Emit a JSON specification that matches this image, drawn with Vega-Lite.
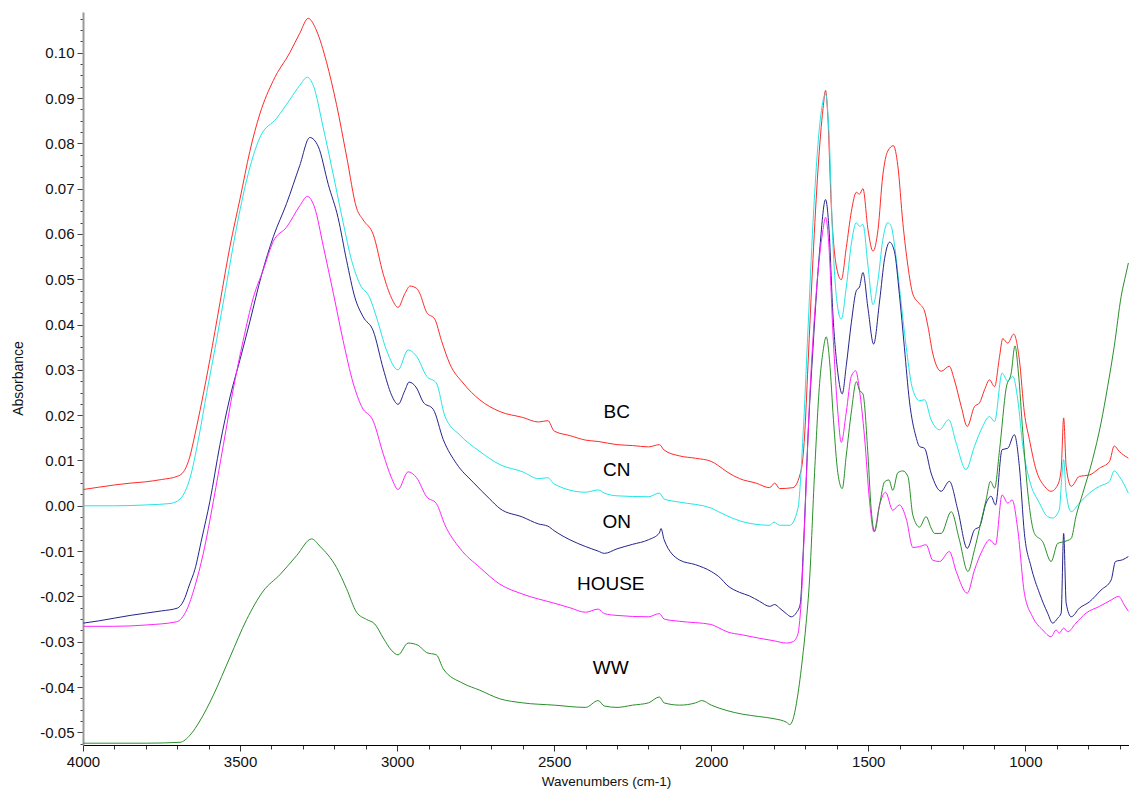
{
"$schema": "https://vega.github.io/schema/vega-lite/v6.json",
"width": 1046, "height": 733,
"autosize": {"type": "none"},
"padding": {"left": 83, "top": 12, "right": 0, "bottom": 47},
"background": "white",
"config": {"view": {"stroke": null}, "font": "Liberation Sans"},
"datasets": {
"spectra": [
{"s":"BC","w":3999,"a":0.0036},{"s":"BC","w":3950,"a":0.0041},{"s":"BC","w":3900,"a":0.0046},{"s":"BC","w":3850,"a":0.005},{"s":"BC","w":3800,"a":0.0053},{"s":"BC","w":3750,"a":0.0058},{"s":"BC","w":3700,"a":0.0065},{"s":"BC","w":3680,"a":0.0075},{"s":"BC","w":3660,"a":0.0108},{"s":"BC","w":3644,"a":0.0156},{"s":"BC","w":3622,"a":0.0229},{"s":"BC","w":3596,"a":0.0323},{"s":"BC","w":3564,"a":0.0448},{"s":"BC","w":3532,"a":0.0573},{"s":"BC","w":3500,"a":0.0678},{"s":"BC","w":3469,"a":0.0782},{"s":"BC","w":3437,"a":0.0865},{"s":"BC","w":3394,"a":0.0939},{"s":"BC","w":3341,"a":0.1001},{"s":"BC","w":3310,"a":0.1043},{"s":"BC","w":3283,"a":0.1076},{"s":"BC","w":3256,"a":0.1048},{"s":"BC","w":3225,"a":0.098},{"s":"BC","w":3193,"a":0.0886},{"s":"BC","w":3161,"a":0.0772},{"s":"BC","w":3129,"a":0.0657},{"s":"BC","w":3108,"a":0.0631},{"s":"BC","w":3076,"a":0.0599},{"s":"BC","w":3044,"a":0.0511},{"s":"BC","w":3018,"a":0.0459},{"s":"BC","w":2997,"a":0.0438},{"s":"BC","w":2975,"a":0.0469},{"s":"BC","w":2959,"a":0.0485},{"s":"BC","w":2938,"a":0.048},{"s":"BC","w":2928,"a":0.0469},{"s":"BC","w":2906,"a":0.0427},{"s":"BC","w":2880,"a":0.0412},{"s":"BC","w":2859,"a":0.0365},{"s":"BC","w":2832,"a":0.0313},{"s":"BC","w":2790,"a":0.0271},{"s":"BC","w":2737,"a":0.0234},{"s":"BC","w":2673,"a":0.0208},{"s":"BC","w":2600,"a":0.0195},{"s":"BC","w":2550,"a":0.0185},{"s":"BC","w":2520,"a":0.0188},{"s":"BC","w":2500,"a":0.0165},{"s":"BC","w":2450,"a":0.0155},{"s":"BC","w":2400,"a":0.0145},{"s":"BC","w":2360,"a":0.0142},{"s":"BC","w":2300,"a":0.0135},{"s":"BC","w":2250,"a":0.0133},{"s":"BC","w":2200,"a":0.013},{"s":"BC","w":2165,"a":0.0135},{"s":"BC","w":2150,"a":0.0123},{"s":"BC","w":2100,"a":0.011},{"s":"BC","w":2050,"a":0.0105},{"s":"BC","w":2000,"a":0.0098},{"s":"BC","w":1980,"a":0.009},{"s":"BC","w":1950,"a":0.0075},{"s":"BC","w":1910,"a":0.006},{"s":"BC","w":1857,"a":0.005},{"s":"BC","w":1814,"a":0.004},{"s":"BC","w":1798,"a":0.005},{"s":"BC","w":1782,"a":0.0038},{"s":"BC","w":1740,"a":0.004},{"s":"BC","w":1713,"a":0.0081},{"s":"BC","w":1703,"a":0.0152},{"s":"BC","w":1692,"a":0.031},{"s":"BC","w":1676,"a":0.0546},{"s":"BC","w":1660,"a":0.0743},{"s":"BC","w":1644,"a":0.0877},{"s":"BC","w":1636,"a":0.0917},{"s":"BC","w":1629,"a":0.0862},{"s":"BC","w":1618,"a":0.0665},{"s":"BC","w":1602,"a":0.053},{"s":"BC","w":1586,"a":0.0499},{"s":"BC","w":1570,"a":0.057},{"s":"BC","w":1554,"a":0.0649},{"s":"BC","w":1538,"a":0.0692},{"s":"BC","w":1528,"a":0.0688},{"s":"BC","w":1517,"a":0.07},{"s":"BC","w":1501,"a":0.061},{"s":"BC","w":1485,"a":0.0562},{"s":"BC","w":1469,"a":0.061},{"s":"BC","w":1454,"a":0.0728},{"s":"BC","w":1438,"a":0.0783},{"s":"BC","w":1420,"a":0.0795},{"s":"BC","w":1406,"a":0.0751},{"s":"BC","w":1390,"a":0.0625},{"s":"BC","w":1374,"a":0.053},{"s":"BC","w":1358,"a":0.0467},{"s":"BC","w":1337,"a":0.0446},{"s":"BC","w":1321,"a":0.043},{"s":"BC","w":1310,"a":0.0396},{"s":"BC","w":1295,"a":0.0337},{"s":"BC","w":1268,"a":0.0297},{"s":"BC","w":1242,"a":0.0308},{"s":"BC","w":1226,"a":0.0278},{"s":"BC","w":1204,"a":0.0219},{"s":"BC","w":1185,"a":0.0175},{"s":"BC","w":1162,"a":0.0219},{"s":"BC","w":1146,"a":0.0227},{"s":"BC","w":1130,"a":0.0256},{"s":"BC","w":1114,"a":0.0278},{"s":"BC","w":1098,"a":0.0263},{"s":"BC","w":1082,"a":0.033},{"s":"BC","w":1072,"a":0.0369},{"s":"BC","w":1056,"a":0.0359},{"s":"BC","w":1037,"a":0.0379},{"s":"BC","w":1019,"a":0.0322},{"s":"BC","w":1003,"a":0.0205},{"s":"BC","w":987,"a":0.0146},{"s":"BC","w":966,"a":0.008},{"s":"BC","w":939,"a":0.0043},{"s":"BC","w":918,"a":0.0032},{"s":"BC","w":897,"a":0.0046},{"s":"BC","w":886,"a":0.008},{"s":"BC","w":878,"a":0.0194},{"s":"BC","w":870,"a":0.0087},{"s":"BC","w":854,"a":0.0043},{"s":"BC","w":828,"a":0.0065},{"s":"BC","w":796,"a":0.0068},{"s":"BC","w":764,"a":0.0083},{"s":"BC","w":732,"a":0.0098},{"s":"BC","w":717,"a":0.0132},{"s":"BC","w":701,"a":0.012},{"s":"BC","w":672,"a":0.0105},

{"s":"CN","w":3999,"a":0.0},{"s":"CN","w":3903,"a":0.0},{"s":"CN","w":3797,"a":0.0002},{"s":"CN","w":3723,"a":0.0005},{"s":"CN","w":3691,"a":0.0015},{"s":"CN","w":3659,"a":0.0062},{"s":"CN","w":3633,"a":0.0145},{"s":"CN","w":3606,"a":0.025},{"s":"CN","w":3575,"a":0.0365},{"s":"CN","w":3543,"a":0.049},{"s":"CN","w":3511,"a":0.0615},{"s":"CN","w":3479,"a":0.0719},{"s":"CN","w":3437,"a":0.0813},{"s":"CN","w":3384,"a":0.0855},{"s":"CN","w":3341,"a":0.0897},{"s":"CN","w":3310,"a":0.0928},{"s":"CN","w":3286,"a":0.0946},{"s":"CN","w":3267,"a":0.0928},{"s":"CN","w":3235,"a":0.0834},{"s":"CN","w":3203,"a":0.073},{"s":"CN","w":3172,"a":0.0626},{"s":"CN","w":3145,"a":0.0542},{"s":"CN","w":3119,"a":0.049},{"s":"CN","w":3087,"a":0.0459},{"s":"CN","w":3066,"a":0.0417},{"s":"CN","w":3034,"a":0.0344},{"s":"CN","w":2997,"a":0.03},{"s":"CN","w":2965,"a":0.0344},{"s":"CN","w":2938,"a":0.033},{"s":"CN","w":2906,"a":0.0286},{"s":"CN","w":2875,"a":0.0271},{"s":"CN","w":2848,"a":0.0198},{"s":"CN","w":2800,"a":0.0156},{"s":"CN","w":2737,"a":0.012},{"s":"CN","w":2673,"a":0.0091},{"s":"CN","w":2600,"a":0.0075},{"s":"CN","w":2550,"a":0.006},{"s":"CN","w":2520,"a":0.0062},{"s":"CN","w":2500,"a":0.0048},{"s":"CN","w":2400,"a":0.003},{"s":"CN","w":2360,"a":0.0035},{"s":"CN","w":2340,"a":0.0028},{"s":"CN","w":2300,"a":0.0022},{"s":"CN","w":2200,"a":0.002},{"s":"CN","w":2165,"a":0.0028},{"s":"CN","w":2150,"a":0.0015},{"s":"CN","w":2100,"a":0.0008},{"s":"CN","w":2000,"a":-0.0005},{"s":"CN","w":1980,"a":-0.0012},{"s":"CN","w":1950,"a":-0.0022},{"s":"CN","w":1910,"a":-0.0033},{"s":"CN","w":1857,"a":-0.0041},{"s":"CN","w":1814,"a":-0.0043},{"s":"CN","w":1800,"a":-0.0036},{"s":"CN","w":1782,"a":-0.0043},{"s":"CN","w":1750,"a":-0.0043},{"s":"CN","w":1724,"a":-0.0006},{"s":"CN","w":1708,"a":0.0152},{"s":"CN","w":1692,"a":0.0389},{"s":"CN","w":1676,"a":0.0625},{"s":"CN","w":1655,"a":0.0838},{"s":"CN","w":1636,"a":0.0909},{"s":"CN","w":1625,"a":0.0822},{"s":"CN","w":1613,"a":0.0586},{"s":"CN","w":1597,"a":0.0436},{"s":"CN","w":1586,"a":0.0412},{"s":"CN","w":1570,"a":0.0483},{"s":"CN","w":1554,"a":0.0578},{"s":"CN","w":1538,"a":0.0625},{"s":"CN","w":1528,"a":0.0617},{"s":"CN","w":1517,"a":0.0621},{"s":"CN","w":1501,"a":0.053},{"s":"CN","w":1485,"a":0.0444},{"s":"CN","w":1469,"a":0.0499},{"s":"CN","w":1454,"a":0.0586},{"s":"CN","w":1438,"a":0.0625},{"s":"CN","w":1427,"a":0.0617},{"s":"CN","w":1417,"a":0.0578},{"s":"CN","w":1401,"a":0.0483},{"s":"CN","w":1379,"a":0.0349},{"s":"CN","w":1363,"a":0.027},{"s":"CN","w":1348,"a":0.0239},{"s":"CN","w":1337,"a":0.0232},{"s":"CN","w":1321,"a":0.0234},{"s":"CN","w":1300,"a":0.019},{"s":"CN","w":1273,"a":0.0168},{"s":"CN","w":1244,"a":0.019},{"s":"CN","w":1220,"a":0.0138},{"s":"CN","w":1189,"a":0.008},{"s":"CN","w":1162,"a":0.0131},{"s":"CN","w":1136,"a":0.0175},{"s":"CN","w":1114,"a":0.0197},{"s":"CN","w":1098,"a":0.0186},{"s":"CN","w":1074,"a":0.0293},{"s":"CN","w":1056,"a":0.0275},{"s":"CN","w":1040,"a":0.0286},{"s":"CN","w":1024,"a":0.0234},{"s":"CN","w":1008,"a":0.0131},{"s":"CN","w":987,"a":0.0057},{"s":"CN","w":955,"a":0.0006},{"s":"CN","w":929,"a":-0.0024},{"s":"CN","w":913,"a":-0.0027},{"s":"CN","w":892,"a":-0.0009},{"s":"CN","w":883,"a":0.0072},{"s":"CN","w":878,"a":0.0102},{"s":"CN","w":870,"a":0.0028},{"s":"CN","w":854,"a":-0.0013},{"s":"CN","w":828,"a":0.0006},{"s":"CN","w":796,"a":0.0028},{"s":"CN","w":764,"a":0.0043},{"s":"CN","w":732,"a":0.0054},{"s":"CN","w":717,"a":0.0077},{"s":"CN","w":701,"a":0.0065},{"s":"CN","w":672,"a":0.0028},

{"s":"ON","w":3999,"a":-0.0259},{"s":"ON","w":3950,"a":-0.0254},{"s":"ON","w":3900,"a":-0.0248},{"s":"ON","w":3850,"a":-0.0242},{"s":"ON","w":3800,"a":-0.0237},{"s":"ON","w":3750,"a":-0.0232},{"s":"ON","w":3700,"a":-0.0226},{"s":"ON","w":3680,"a":-0.021},{"s":"ON","w":3660,"a":-0.0172},{"s":"ON","w":3644,"a":-0.0141},{"s":"ON","w":3622,"a":-0.0073},{"s":"ON","w":3596,"a":0.001},{"s":"ON","w":3564,"a":0.0135},{"s":"ON","w":3532,"a":0.024},{"s":"ON","w":3500,"a":0.0323},{"s":"ON","w":3469,"a":0.0406},{"s":"ON","w":3431,"a":0.0511},{"s":"ON","w":3394,"a":0.0594},{"s":"ON","w":3352,"a":0.0667},{"s":"ON","w":3310,"a":0.0751},{"s":"ON","w":3278,"a":0.0813},{"s":"ON","w":3251,"a":0.0793},{"s":"ON","w":3219,"a":0.0709},{"s":"ON","w":3188,"a":0.0636},{"s":"ON","w":3161,"a":0.0542},{"s":"ON","w":3134,"a":0.0459},{"s":"ON","w":3108,"a":0.0417},{"s":"ON","w":3076,"a":0.0386},{"s":"ON","w":3044,"a":0.0302},{"s":"ON","w":3018,"a":0.0245},{"s":"ON","w":2997,"a":0.0224},{"s":"ON","w":2975,"a":0.0255},{"s":"ON","w":2962,"a":0.0273},{"s":"ON","w":2938,"a":0.026},{"s":"ON","w":2917,"a":0.0229},{"s":"ON","w":2885,"a":0.0213},{"s":"ON","w":2853,"a":0.0146},{"s":"ON","w":2811,"a":0.0093},{"s":"ON","w":2758,"a":0.0052},{"s":"ON","w":2705,"a":0.0015},{"s":"ON","w":2673,"a":-0.0006},{"s":"ON","w":2600,"a":-0.0025},{"s":"ON","w":2550,"a":-0.004},{"s":"ON","w":2520,"a":-0.0045},{"s":"ON","w":2500,"a":-0.0055},{"s":"ON","w":2450,"a":-0.0075},{"s":"ON","w":2400,"a":-0.009},{"s":"ON","w":2360,"a":-0.01},{"s":"ON","w":2340,"a":-0.0105},{"s":"ON","w":2300,"a":-0.0095},{"s":"ON","w":2250,"a":-0.0085},{"s":"ON","w":2200,"a":-0.0075},{"s":"ON","w":2165,"a":-0.006},{"s":"ON","w":2160,"a":-0.005},{"s":"ON","w":2150,"a":-0.0075},{"s":"ON","w":2100,"a":-0.012},{"s":"ON","w":2050,"a":-0.013},{"s":"ON","w":2000,"a":-0.0145},{"s":"ON","w":1970,"a":-0.016},{"s":"ON","w":1950,"a":-0.0175},{"s":"ON","w":1910,"a":-0.0191},{"s":"ON","w":1878,"a":-0.0199},{"s":"ON","w":1846,"a":-0.0211},{"s":"ON","w":1814,"a":-0.0222},{"s":"ON","w":1798,"a":-0.0218},{"s":"ON","w":1782,"a":-0.0226},{"s":"ON","w":1761,"a":-0.0238},{"s":"ON","w":1745,"a":-0.0245},{"s":"ON","w":1729,"a":-0.0236},{"s":"ON","w":1717,"a":-0.0218},{"s":"ON","w":1706,"a":-0.0084},{"s":"ON","w":1692,"a":0.0152},{"s":"ON","w":1676,"a":0.0349},{"s":"ON","w":1655,"a":0.0562},{"s":"ON","w":1636,"a":0.0676},{"s":"ON","w":1625,"a":0.061},{"s":"ON","w":1613,"a":0.0428},{"s":"ON","w":1597,"a":0.0294},{"s":"ON","w":1583,"a":0.0247},{"s":"ON","w":1570,"a":0.031},{"s":"ON","w":1554,"a":0.0404},{"s":"ON","w":1538,"a":0.0475},{"s":"ON","w":1528,"a":0.0483},{"s":"ON","w":1517,"a":0.0515},{"s":"ON","w":1501,"a":0.0436},{"s":"ON","w":1483,"a":0.0357},{"s":"ON","w":1464,"a":0.0452},{"s":"ON","w":1448,"a":0.0546},{"s":"ON","w":1432,"a":0.0582},{"s":"ON","w":1417,"a":0.0562},{"s":"ON","w":1401,"a":0.0467},{"s":"ON","w":1385,"a":0.0349},{"s":"ON","w":1369,"a":0.0231},{"s":"ON","w":1348,"a":0.0152},{"s":"ON","w":1337,"a":0.0131},{"s":"ON","w":1321,"a":0.0127},{"s":"ON","w":1300,"a":0.0072},{"s":"ON","w":1268,"a":0.0032},{"s":"ON","w":1242,"a":0.0054},{"s":"ON","w":1215,"a":-0.0009},{"s":"ON","w":1185,"a":-0.0094},{"s":"ON","w":1162,"a":-0.0053},{"s":"ON","w":1146,"a":-0.0046},{"s":"ON","w":1125,"a":0.0006},{"s":"ON","w":1109,"a":0.0021},{"s":"ON","w":1095,"a":0.0002},{"s":"ON","w":1074,"a":0.0124},{"s":"ON","w":1056,"a":0.0127},{"s":"ON","w":1035,"a":0.0157},{"s":"ON","w":1019,"a":0.0087},{"s":"ON","w":1003,"a":-0.0061},{"s":"ON","w":982,"a":-0.0134},{"s":"ON","w":955,"a":-0.0193},{"s":"ON","w":929,"a":-0.0237},{"s":"ON","w":913,"a":-0.0259},{"s":"ON","w":897,"a":-0.0248},{"s":"ON","w":886,"a":-0.0237},{"s":"ON","w":878,"a":-0.0061},{"s":"ON","w":870,"a":-0.0215},{"s":"ON","w":854,"a":-0.0245},{"s":"ON","w":828,"a":-0.0226},{"s":"ON","w":796,"a":-0.0212},{"s":"ON","w":759,"a":-0.0186},{"s":"ON","w":727,"a":-0.0164},{"s":"ON","w":713,"a":-0.0123},{"s":"ON","w":690,"a":-0.0119},{"s":"ON","w":672,"a":-0.0112},

{"s":"HOUSE","w":3999,"a":-0.0266},{"s":"HOUSE","w":3903,"a":-0.0266},{"s":"HOUSE","w":3797,"a":-0.0263},{"s":"HOUSE","w":3702,"a":-0.0256},{"s":"HOUSE","w":3670,"a":-0.023},{"s":"HOUSE","w":3644,"a":-0.0178},{"s":"HOUSE","w":3617,"a":-0.0105},{"s":"HOUSE","w":3585,"a":0.001},{"s":"HOUSE","w":3553,"a":0.0135},{"s":"HOUSE","w":3521,"a":0.026},{"s":"HOUSE","w":3490,"a":0.0365},{"s":"HOUSE","w":3458,"a":0.0459},{"s":"HOUSE","w":3426,"a":0.0521},{"s":"HOUSE","w":3394,"a":0.0584},{"s":"HOUSE","w":3352,"a":0.0615},{"s":"HOUSE","w":3310,"a":0.0662},{"s":"HOUSE","w":3286,"a":0.0683},{"s":"HOUSE","w":3262,"a":0.0657},{"s":"HOUSE","w":3235,"a":0.0573},{"s":"HOUSE","w":3203,"a":0.0469},{"s":"HOUSE","w":3172,"a":0.0365},{"s":"HOUSE","w":3140,"a":0.0271},{"s":"HOUSE","w":3113,"a":0.0219},{"s":"HOUSE","w":3076,"a":0.0187},{"s":"HOUSE","w":3044,"a":0.0114},{"s":"HOUSE","w":3018,"a":0.0062},{"s":"HOUSE","w":2997,"a":0.0036},{"s":"HOUSE","w":2965,"a":0.0075},{"s":"HOUSE","w":2938,"a":0.0062},{"s":"HOUSE","w":2906,"a":0.002},{"s":"HOUSE","w":2875,"a":0.0005},{"s":"HOUSE","w":2848,"a":-0.0042},{"s":"HOUSE","w":2800,"a":-0.0094},{"s":"HOUSE","w":2737,"a":-0.0136},{"s":"HOUSE","w":2673,"a":-0.0173},{"s":"HOUSE","w":2600,"a":-0.0195},{"s":"HOUSE","w":2500,"a":-0.0215},{"s":"HOUSE","w":2450,"a":-0.0225},{"s":"HOUSE","w":2400,"a":-0.0235},{"s":"HOUSE","w":2360,"a":-0.0228},{"s":"HOUSE","w":2340,"a":-0.0238},{"s":"HOUSE","w":2300,"a":-0.0242},{"s":"HOUSE","w":2200,"a":-0.0245},{"s":"HOUSE","w":2165,"a":-0.0238},{"s":"HOUSE","w":2150,"a":-0.025},{"s":"HOUSE","w":2100,"a":-0.0255},{"s":"HOUSE","w":2000,"a":-0.0262},{"s":"HOUSE","w":1980,"a":-0.0268},{"s":"HOUSE","w":1950,"a":-0.0278},{"s":"HOUSE","w":1900,"a":-0.0285},{"s":"HOUSE","w":1850,"a":-0.0292},{"s":"HOUSE","w":1800,"a":-0.0298},{"s":"HOUSE","w":1760,"a":-0.0303},{"s":"HOUSE","w":1740,"a":-0.03},{"s":"HOUSE","w":1725,"a":-0.0285},{"s":"HOUSE","w":1713,"a":-0.0203},{"s":"HOUSE","w":1703,"a":-0.0045},{"s":"HOUSE","w":1687,"a":0.0231},{"s":"HOUSE","w":1666,"a":0.0467},{"s":"HOUSE","w":1644,"a":0.061},{"s":"HOUSE","w":1636,"a":0.0637},{"s":"HOUSE","w":1625,"a":0.057},{"s":"HOUSE","w":1613,"a":0.0389},{"s":"HOUSE","w":1597,"a":0.0207},{"s":"HOUSE","w":1586,"a":0.014},{"s":"HOUSE","w":1570,"a":0.0207},{"s":"HOUSE","w":1554,"a":0.0286},{"s":"HOUSE","w":1540,"a":0.0298},{"s":"HOUSE","w":1528,"a":0.0255},{"s":"HOUSE","w":1512,"a":0.0152},{"s":"HOUSE","w":1496,"a":0.001},{"s":"HOUSE","w":1482,"a":-0.0057},{"s":"HOUSE","w":1464,"a":0.0002},{"s":"HOUSE","w":1445,"a":0.003},{"s":"HOUSE","w":1422,"a":-0.001},{"s":"HOUSE","w":1401,"a":0.0002},{"s":"HOUSE","w":1379,"a":-0.0029},{"s":"HOUSE","w":1358,"a":-0.0092},{"s":"HOUSE","w":1337,"a":-0.009},{"s":"HOUSE","w":1316,"a":-0.0086},{"s":"HOUSE","w":1295,"a":-0.012},{"s":"HOUSE","w":1273,"a":-0.0123},{"s":"HOUSE","w":1242,"a":-0.0101},{"s":"HOUSE","w":1220,"a":-0.0145},{"s":"HOUSE","w":1185,"a":-0.0193},{"s":"HOUSE","w":1162,"a":-0.0142},{"s":"HOUSE","w":1136,"a":-0.0097},{"s":"HOUSE","w":1114,"a":-0.0075},{"s":"HOUSE","w":1095,"a":-0.0086},{"s":"HOUSE","w":1074,"a":0.0024},{"s":"HOUSE","w":1056,"a":0.0006},{"s":"HOUSE","w":1042,"a":0.0013},{"s":"HOUSE","w":1024,"a":-0.0053},{"s":"HOUSE","w":1003,"a":-0.0193},{"s":"HOUSE","w":977,"a":-0.0245},{"s":"HOUSE","w":945,"a":-0.0274},{"s":"HOUSE","w":918,"a":-0.0289},{"s":"HOUSE","w":902,"a":-0.0274},{"s":"HOUSE","w":892,"a":-0.0281},{"s":"HOUSE","w":878,"a":-0.027},{"s":"HOUSE","w":865,"a":-0.0278},{"s":"HOUSE","w":839,"a":-0.0259},{"s":"HOUSE","w":807,"a":-0.0237},{"s":"HOUSE","w":764,"a":-0.0222},{"s":"HOUSE","w":727,"a":-0.0208},{"s":"HOUSE","w":703,"a":-0.02},{"s":"HOUSE","w":685,"a":-0.0219},{"s":"HOUSE","w":672,"a":-0.0233},

{"s":"WW","w":3999,"a":-0.0524},{"s":"WW","w":3797,"a":-0.0524},{"s":"WW","w":3691,"a":-0.0522},{"s":"WW","w":3659,"a":-0.0506},{"s":"WW","w":3628,"a":-0.0475},{"s":"WW","w":3585,"a":-0.0418},{"s":"WW","w":3532,"a":-0.0334},{"s":"WW","w":3479,"a":-0.0251},{"s":"WW","w":3426,"a":-0.0188},{"s":"WW","w":3373,"a":-0.0152},{"s":"WW","w":3320,"a":-0.011},{"s":"WW","w":3272,"a":-0.0073},{"s":"WW","w":3246,"a":-0.0089},{"s":"WW","w":3193,"a":-0.0136},{"s":"WW","w":3161,"a":-0.0183},{"s":"WW","w":3129,"a":-0.0235},{"s":"WW","w":3097,"a":-0.0251},{"s":"WW","w":3071,"a":-0.0261},{"s":"WW","w":3044,"a":-0.0292},{"s":"WW","w":3018,"a":-0.0319},{"s":"WW","w":2997,"a":-0.0329},{"s":"WW","w":2965,"a":-0.0303},{"s":"WW","w":2933,"a":-0.0308},{"s":"WW","w":2906,"a":-0.0324},{"s":"WW","w":2875,"a":-0.0329},{"s":"WW","w":2853,"a":-0.036},{"s":"WW","w":2790,"a":-0.0392},{"s":"WW","w":2737,"a":-0.0407},{"s":"WW","w":2673,"a":-0.0426},{"s":"WW","w":2600,"a":-0.0435},{"s":"WW","w":2500,"a":-0.044},{"s":"WW","w":2400,"a":-0.0445},{"s":"WW","w":2360,"a":-0.043},{"s":"WW","w":2340,"a":-0.0442},{"s":"WW","w":2300,"a":-0.0445},{"s":"WW","w":2250,"a":-0.044},{"s":"WW","w":2200,"a":-0.0435},{"s":"WW","w":2165,"a":-0.0422},{"s":"WW","w":2150,"a":-0.0435},{"s":"WW","w":2100,"a":-0.044},{"s":"WW","w":2050,"a":-0.0435},{"s":"WW","w":2030,"a":-0.043},{"s":"WW","w":2000,"a":-0.044},{"s":"WW","w":1950,"a":-0.0452},{"s":"WW","w":1900,"a":-0.046},{"s":"WW","w":1850,"a":-0.0465},{"s":"WW","w":1800,"a":-0.047},{"s":"WW","w":1760,"a":-0.0478},{"s":"WW","w":1750,"a":-0.0483},{"s":"WW","w":1740,"a":-0.0472},{"s":"WW","w":1725,"a":-0.042},{"s":"WW","w":1710,"a":-0.034},{"s":"WW","w":1698,"a":-0.026},{"s":"WW","w":1687,"a":-0.0164},{"s":"WW","w":1671,"a":0.0073},{"s":"WW","w":1655,"a":0.027},{"s":"WW","w":1644,"a":0.0341},{"s":"WW","w":1634,"a":0.0373},{"s":"WW","w":1623,"a":0.0318},{"s":"WW","w":1611,"a":0.0191},{"s":"WW","w":1597,"a":0.0073},{"s":"WW","w":1583,"a":0.0038},{"s":"WW","w":1570,"a":0.0112},{"s":"WW","w":1554,"a":0.0207},{"s":"WW","w":1538,"a":0.0274},{"s":"WW","w":1528,"a":0.0255},{"s":"WW","w":1517,"a":0.0247},{"s":"WW","w":1501,"a":0.0112},{"s":"WW","w":1491,"a":-0.0006},{"s":"WW","w":1480,"a":-0.0057},{"s":"WW","w":1464,"a":0.0002},{"s":"WW","w":1448,"a":0.0053},{"s":"WW","w":1434,"a":0.0057},{"s":"WW","w":1422,"a":0.0034},{"s":"WW","w":1406,"a":0.0073},{"s":"WW","w":1390,"a":0.0077},{"s":"WW","w":1374,"a":0.0065},{"s":"WW","w":1358,"a":-0.0021},{"s":"WW","w":1337,"a":-0.0047},{"s":"WW","w":1316,"a":-0.0024},{"s":"WW","w":1300,"a":-0.0049},{"s":"WW","w":1289,"a":-0.0061},{"s":"WW","w":1268,"a":-0.0061},{"s":"WW","w":1236,"a":-0.0013},{"s":"WW","w":1210,"a":-0.0075},{"s":"WW","w":1183,"a":-0.0145},{"s":"WW","w":1162,"a":-0.0097},{"s":"WW","w":1141,"a":-0.0035},{"s":"WW","w":1125,"a":0.0013},{"s":"WW","w":1111,"a":0.0054},{"s":"WW","w":1098,"a":0.0039},{"s":"WW","w":1082,"a":0.0124},{"s":"WW","w":1061,"a":0.026},{"s":"WW","w":1045,"a":0.0293},{"s":"WW","w":1033,"a":0.0353},{"s":"WW","w":1022,"a":0.0293},{"s":"WW","w":1008,"a":0.0161},{"s":"WW","w":992,"a":0.0028},{"s":"WW","w":971,"a":-0.0061},{"s":"WW","w":945,"a":-0.0079},{"s":"WW","w":918,"a":-0.0123},{"s":"WW","w":897,"a":-0.0083},{"s":"WW","w":876,"a":-0.0079},{"s":"WW","w":854,"a":-0.0072},{"s":"WW","w":839,"a":-0.0024},{"s":"WW","w":817,"a":0.0028},{"s":"WW","w":786,"a":0.0102},{"s":"WW","w":759,"a":0.0183},{"s":"WW","w":738,"a":0.0263},{"s":"WW","w":717,"a":0.0352},{"s":"WW","w":695,"a":0.0462},{"s":"WW","w":679,"a":0.0514},{"s":"WW","w":672,"a":0.0536}
],
"labels": [
{"t":"BC","w":2301,"a":0.0208},
{"t":"CN","w":2301,"a":0.0079},
{"t":"ON","w":2301,"a":-0.0035},
{"t":"HOUSE","w":2320,"a":-0.0172},
{"t":"WW","w":2320,"a":-0.0358}
]
},
"layer": [
{
"data": {"name": "spectra"},
"mark": {"type": "line", "strokeWidth": 1, "clip": true, "interpolate": "monotone"},
"encoding": {
"x": {"field": "w", "type": "quantitative",
"scale": {"domain": [670, 4000], "reverse": true, "nice": false, "zero": false},
"axis": {"title": "Wavenumbers (cm-1)",
"values": [700,800,900,1000,1100,1200,1300,1400,1500,1600,1700,1800,1900,2000,2100,2200,2300,2400,2500,2600,2700,2800,2900,3000,3100,3200,3300,3400,3500,3600,3700,3800,3900,4000],
"tickCount": 200,
"labelExpr": "datum.value % 500 === 0 ? '' + datum.value : ''",
"grid": false, "domainColor": "#000000", "domainWidth": 1, "tickColor": "#333333",
"tickSize": {"condition": {"test": "datum.value % 500 === 0", "value": 6}, "value": 4},
"labelFont": "Liberation Sans", "labelFontSize": 15, "labelColor": "#111111", "labelPadding": 3, "labelFlush": false, "labelOverlap": false,
"titleFont": "Liberation Sans", "titleFontSize": 13.5, "titleFontWeight": "normal", "titleColor": "#111111", "titlePadding": 5}},
"y": {"field": "a", "type": "quantitative",
"scale": {"domain": [-0.0528, 0.109], "nice": false, "zero": false},
"axis": {"title": "Absorbance",
"values": [-0.0525,-0.05,-0.0475,-0.045,-0.0425,-0.04,-0.0375,-0.035,-0.0325,-0.03,-0.0275,-0.025,-0.0225,-0.02,-0.0175,-0.015,-0.0125,-0.01,-0.0075,-0.005,-0.0025,0,0.0025,0.005,0.0075,0.01,0.0125,0.015,0.0175,0.02,0.0225,0.025,0.0275,0.03,0.0325,0.035,0.0375,0.04,0.0425,0.045,0.0475,0.05,0.0525,0.055,0.0575,0.06,0.0625,0.065,0.0675,0.07,0.0725,0.075,0.0775,0.08,0.0825,0.085,0.0875,0.09,0.0925,0.095,0.0975,0.1,0.1025,0.105,0.1075],
"tickCount": 200,
"labelExpr": "abs(datum.value * 100 - round(datum.value * 100)) < 0.01 ? (datum.value < -0.001 ? '-' + format(-datum.value, '.2f') : format(abs(datum.value), '.2f')) : ''",
"grid": false, "domainColor": "#999999", "domainWidth": 2, "tickColor": "#444444",
"tickSize": {"condition": {"test": "abs(datum.value * 100 - round(datum.value * 100)) < 0.01", "value": 6}, "value": 3},
"labelFont": "Liberation Sans", "labelFontSize": 15, "labelColor": "#111111", "labelPadding": 3, "labelOverlap": false, "labelFlush": false,
"titleFont": "Liberation Sans", "titleFontSize": 14, "titleFontWeight": "normal", "titleColor": "#111111",
"titleX": -65, "titleY": 366, "titleAngle": -90, "titleBaseline": "middle", "titleAlign": "center"}},
"color": {"field": "s", "type": "nominal",
"scale": {"domain": ["BC","CN","ON","HOUSE","WW"], "range": ["#ff2a2a","#22e6e6","#24248c","#ff22ff","#2a8f2a"]},
"legend": null},
"order": {"field": "w", "type": "quantitative"}
}
},
{
"data": {"name": "labels"},
"mark": {"type": "text", "fontSize": 19, "font": "Liberation Sans", "color": "#000000", "baseline": "middle", "align": "center"},
"encoding": {
"x": {"field": "w", "type": "quantitative"},
"y": {"field": "a", "type": "quantitative"},
"text": {"field": "t"}
}
}
]
}
